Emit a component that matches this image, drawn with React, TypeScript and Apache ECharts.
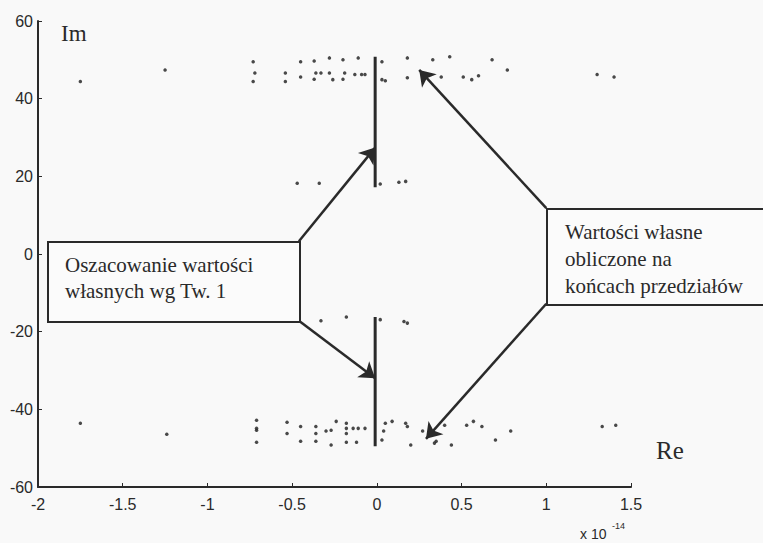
import React, { useEffect, useRef } from "react";
import * as echarts from "echarts";

const xTicks = { min: -2, max: 1.5, interval: 0.5 };
const yTicks = { min: -60, max: 60, interval: 20 };

// eigenvalues computed at interval ends (Re x 1e-14, Im)
const upperPoints: number[][] = [
  [-1.75, 44.4], [-1.25, 47.4],
  [-0.73, 49.5], [-0.72, 46.6], [-0.73, 44.4],
  [-0.54, 46.6], [-0.54, 44.4],
  [-0.45, 49.5], [-0.45, 45.6],
  [-0.37, 49.7], [-0.36, 46.6], [-0.37, 45.0],
  [-0.33, 46.6], [-0.28, 50.5], [-0.28, 46.6], [-0.26, 44.9],
  [-0.2, 50], [-0.19, 46.6], [-0.2, 45.0],
  [-0.13, 46.2], [-0.11, 50.5], [-0.09, 46.2], [-0.07, 46.2],
  [0.03, 49.5], [0.03, 44.9], [0.05, 44.6],
  [0.18, 50.5], [0.18, 45.4],
  [0.33, 50], [0.38, 45.6], [0.43, 50.8],
  [0.51, 45.6], [0.56, 44.9], [0.6, 45.9],
  [0.68, 50], [0.77, 47.4],
  [1.3, 46.2], [1.4, 45.6],
];
const midUpperPoints: number[][] = [
  [-0.47, 18.2], [-0.34, 18.2], [0.02, 18.0], [0.13, 18.5], [0.17, 18.7],
];
const midLowerPoints: number[][] = [
  [-0.33, -17.2], [-0.18, -16.2], [0.02, -16.9], [0.16, -17.4], [0.18, -17.8],
];
const lowerPoints: number[][] = [
  [-1.75, -43.6], [-1.24, -46.4],
  [-0.71, -42.8], [-0.71, -44.9], [-0.71, -45.4], [-0.71, -48.5],
  [-0.53, -43.3], [-0.53, -46.2],
  [-0.45, -44.4], [-0.45, -48.2],
  [-0.36, -44.4], [-0.36, -46.2], [-0.36, -48.2],
  [-0.3, -45.6], [-0.27, -45.4], [-0.24, -43.1], [-0.27, -49.2],
  [-0.18, -43.6], [-0.18, -44.9], [-0.18, -46.2], [-0.18, -48.5],
  [-0.14, -44.9], [-0.11, -44.9], [-0.07, -44.9], [-0.12, -48.5],
  [0.05, -43.6], [0.09, -43.1], [0.04, -45.6], [0.03, -47.9],
  [0.17, -43.6], [0.18, -44.4], [0.2, -49.2],
  [0.27, -45.6], [0.34, -48.7], [0.35, -48.2], [0.4, -44.1], [0.44, -49.2],
  [0.53, -44.1], [0.57, -43.1], [0.62, -44.4],
  [0.7, -47.9], [0.79, -45.6],
  [1.33, -44.4], [1.41, -44.1],
];

// estimated eigenvalue intervals (Theorem 1)
const estUpper: number[][] = [[-0.01, 17.2], [-0.01, 50.8]];
const estLower: number[][] = [[-0.01, -16.2], [-0.01, -49.5]];

// arrows [from, to] in data coordinates
const arrows: number[][][] = [
  [[-0.46, 3.3], [-0.01, 27.4]],
  [[-0.46, -17.2], [-0.01, -32]],
  [[1.0, 11.8], [0.25, 47.4]],
  [[1.0, -12.8], [0.29, -47.6]],
];

const INK = "#2a2a2a";
const SERIF = "Liberation Serif";
const SANS = "Liberation Sans";

export default function App() {
  const ref = useRef<HTMLDivElement>(null);
  useEffect(() => {
    if (!ref.current) return;
    const chart = echarts.init(ref.current, undefined, { renderer: "svg" });
    const dots = (data: number[][]) => ({
      type: "scatter",
      data,
      symbol: "circle",
      symbolSize: 3.5,
      itemStyle: { color: INK, opacity: 0.85 },
      z: 3,
    });
    const serifText = (x: number, y: number, text: string, size: number, lh?: number) => ({
      type: "text",
      x,
      y,
      style: {
        text,
        fontFamily: SERIF,
        fontSize: size,
        fill: INK,
        lineHeight: lh ?? size,
      },
      z: 11,
    });
    chart.setOption({
      animation: false,
      backgroundColor: "#f9f9f9",
      grid: { left: 38, right: 132, top: 21, bottom: 56 },
      xAxis: {
        type: "value",
        min: xTicks.min,
        max: xTicks.max,
        interval: xTicks.interval,
        axisLine: { show: true, onZero: false, lineStyle: { color: INK, width: 2 } },
        axisTick: { show: true, inside: true, length: 4, lineStyle: { color: INK } },
        axisLabel: { color: INK, fontFamily: SANS, fontSize: 16, margin: 9 },
        splitLine: { show: false },
      },
      yAxis: {
        type: "value",
        min: yTicks.min,
        max: yTicks.max,
        interval: yTicks.interval,
        axisLine: { show: true, onZero: false, lineStyle: { color: INK, width: 2 } },
        axisTick: { show: true, inside: true, length: 4, lineStyle: { color: INK } },
        axisLabel: { color: INK, fontFamily: SANS, fontSize: 16, margin: 5 },
        splitLine: { show: false },
      },
      series: [
        dots(upperPoints),
        dots(midUpperPoints),
        dots(midLowerPoints),
        dots(lowerPoints),
        {
          type: "line",
          data: estUpper,
          showSymbol: false,
          lineStyle: { color: INK, width: 3 },
          z: 4,
        },
        {
          type: "line",
          data: estLower,
          showSymbol: false,
          lineStyle: { color: INK, width: 3 },
          z: 4,
        },
        {
          type: "lines",
          coordinateSystem: "cartesian2d",
          data: arrows.map((c) => ({ coords: c })),
          symbol: ["none", "arrow"],
          symbolSize: 15,
          lineStyle: { color: INK, width: 2.5, opacity: 1 },
          z: 5,
        },
      ],
      graphic: [
        {
          type: "rect",
          shape: { x: 48, y: 242, width: 252, height: 80 },
          style: { fill: "#fbfbfb", stroke: INK, lineWidth: 2 },
          z: 10,
        },
        serifText(65, 252, "Oszacowanie wartości\nwłasnych wg Tw. 1", 21, 26),
        {
          type: "rect",
          shape: { x: 547, y: 209, width: 240, height: 96 },
          style: { fill: "#fbfbfb", stroke: INK, lineWidth: 2 },
          z: 10,
        },
        serifText(565, 218, "Wartości własne\nobliczone na\nkońcach przedziałów", 21, 27),
        serifText(61, 22, "Im", 23),
        serifText(656, 438, "Re", 25),
        {
          type: "text",
          x: 580,
          y: 527,
          style: { text: "x 10", fontFamily: SANS, fontSize: 14, fill: INK },
          z: 11,
        },
        {
          type: "text",
          x: 612,
          y: 521,
          style: { text: "-14", fontFamily: SANS, fontSize: 9, fill: INK },
          z: 11,
        },
      ],
    });
    return () => chart.dispose();
  }, []);
  return (
    <div
      ref={ref}
      style={{ position: "absolute", left: 0, top: 0, width: 763, height: 543 }}
    />
  );
}
